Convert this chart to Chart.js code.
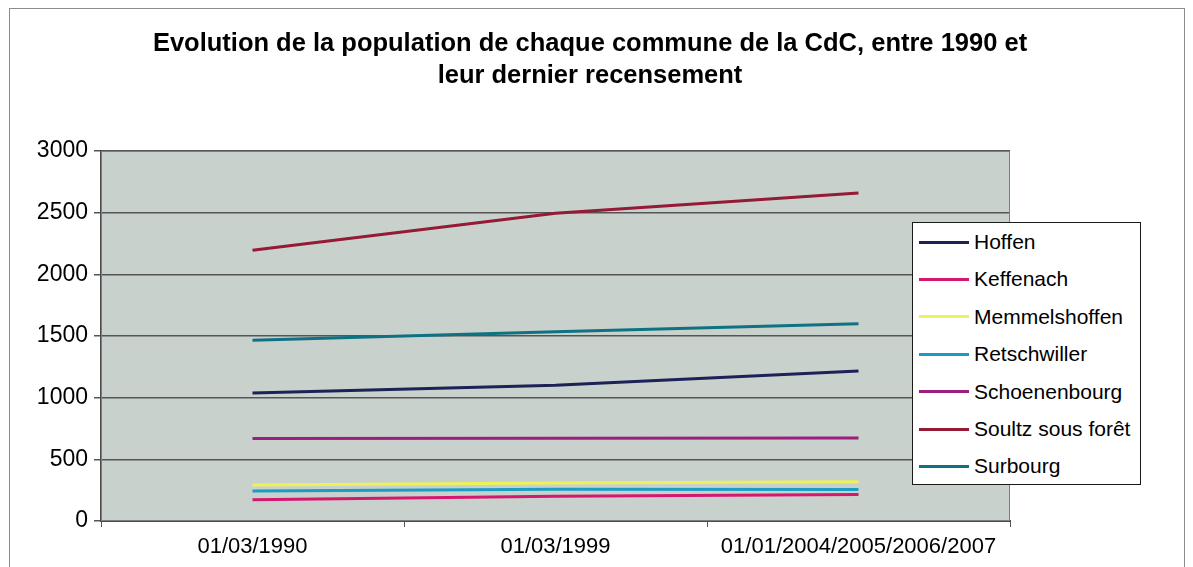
<!DOCTYPE html>
<html lang="fr">
<head>
<meta charset="utf-8">
<script src="https://cdn.jsdelivr.net/npm/chart.js@4/dist/chart.umd.min.js"></script>
<style>
  html, body { margin: 0; padding: 0; background: #ffffff; }
  #wrap { position: relative; width: 1193px; height: 567px; overflow: hidden; }
  #frame {
    position: absolute; left: 9px; top: 8px; width: 1176px; height: 570px;
    border: 1px solid #8c8c8c; box-sizing: border-box;
  }
  #chartCanvas { position: absolute; left: 0; top: 0; }
  #title {
    position: absolute; left: 0; top: 26px; width: 1180px; text-align: center;
    font-family: "Liberation Sans", Arial, sans-serif; font-weight: bold; font-size: 25.5px;
    line-height: 32px; color: #000;
  }
  #legendBox {
    position: absolute; left: 912px; top: 222px; width: 229px; height: 263px;
    background: #ffffff; border: 1px solid #1a1a1a; box-sizing: border-box;
    font-family: "Liberation Sans", Arial, sans-serif; font-size: 21px; color: #000;
  }
  .legend-item { position: absolute; left: 0; height: 24px; display: flex; align-items: center; }
  .legend-line { width: 50px; height: 3px; margin-left: 6px; margin-right: 5px; }
  .legend-text { white-space: nowrap; }
</style>
</head>
<body>
<div id="wrap">
  <div id="frame"></div>
  <canvas id="chartCanvas" width="1193" height="567"></canvas>
  <div id="title">Evolution de la population de chaque commune de la CdC, entre 1990 et<br>leur dernier recensement</div>
  <div id="legendBox"></div>
</div>
<script>
// Données
const categories = ["01/03/1990", "01/03/1999", "01/01/2004/2005/2006/2007"];
const communes = ["Hoffen", "Keffenach", "Memmelshoffen", "Retschwiller", "Schoenenbourg", "Soultz sous forêt", "Surbourg"];
const hoffen = [1038, 1100, 1217];
const keffenach = [172, 200, 215];
const memmelshoffen = [292, 308, 318];
const retschwiller = [243, 258, 255];
const schoenenbourg = [668, 670, 672];
const soultz = [2195, 2495, 2660];
const surbourg = [1465, 1535, 1600];
const couleurs = ["#1c2156", "#d4176f", "#eef25a", "#1a9cc4", "#9c1f7e", "#941a36", "#0f7282"];
const yTicks = [0, 500, 1000, 1500, 2000, 2500, 3000];

const series = [hoffen, keffenach, memmelshoffen, retschwiller, schoenenbourg, soultz, surbourg];

// Fond gris de la zone de tracé + cadre
const plotBackground = {
  id: "plotBackground",
  beforeDraw(chart) {
    const { ctx, chartArea } = chart;
    ctx.save();
    ctx.fillStyle = "#c9d1cd";
    ctx.fillRect(chartArea.left, chartArea.top, chartArea.right - chartArea.left, chartArea.bottom - chartArea.top);
    ctx.restore();
  },
  afterDatasetsDraw(chart) {
    const { ctx, chartArea } = chart;
    ctx.save();
    ctx.strokeStyle = "#7d7d7d";
    ctx.lineWidth = 1;
    ctx.strokeRect(chartArea.left + 0.5, chartArea.top + 0.5, chartArea.right - chartArea.left - 1, chartArea.bottom - chartArea.top - 1);
    ctx.restore();
  }
};

const ctx = document.getElementById("chartCanvas").getContext("2d");
const chart = new Chart(ctx, {
  type: "line",
  data: {
    labels: categories,
    datasets: communes.map((name, i) => ({
      label: name,
      data: series[i],
      borderColor: couleurs[i],
      backgroundColor: couleurs[i],
      borderWidth: 3,
      pointRadius: 0,
      tension: 0,
      fill: false,
    })),
  },
  options: {
    responsive: false,
    animation: false,
    layout: { padding: { left: 0, right: 183, top: 151, bottom: 0 } },
    scales: {
      x: {
        offset: true,
        grid: { display: true, drawOnChartArea: false, drawTicks: true, tickLength: 6, offset: true, color: "#555555" },
        border: { display: true, color: "#4a4a4a", width: 2 },
        ticks: { color: "#000", font: { family: "'Liberation Sans', Arial, sans-serif", size: 22 }, maxRotation: 0, padding: 7 },
        afterFit(scale) { scale.height = 46; },
      },
      y: {
        min: 0,
        max: 3000,
        afterBuildTicks(scale) { scale.ticks = yTicks.map((v) => ({ value: v })); },
        grid: { color: "#555555", lineWidth: 1.5, tickLength: 7 },
        border: { display: true, color: "#4a4a4a", width: 2 },
        ticks: {
          color: "#000",
          font: { family: "'Liberation Sans', Arial, sans-serif", size: 23 },
          padding: 6,
          callback: (value) => String(value),
        },
        afterFit(scale) { scale.width = 101; },
      },
    },
    plugins: {
      legend: { display: false },
      tooltip: { enabled: false },
      title: { display: false },
    },
  },
  plugins: [plotBackground],
});

// Légende HTML placée sur la zone de tracé, comme dans l'original
const legendBox = document.getElementById("legendBox");
communes.forEach((name, i) => {
  const item = document.createElement("div");
  item.className = "legend-item";
  item.style.top = (7 + i * 37.4) + "px";
  item.innerHTML = `<div class="legend-line" style="background:${couleurs[i]}"></div><span class="legend-text">${name}</span>`;
  legendBox.appendChild(item);
});
</script>
</body>
</html>
